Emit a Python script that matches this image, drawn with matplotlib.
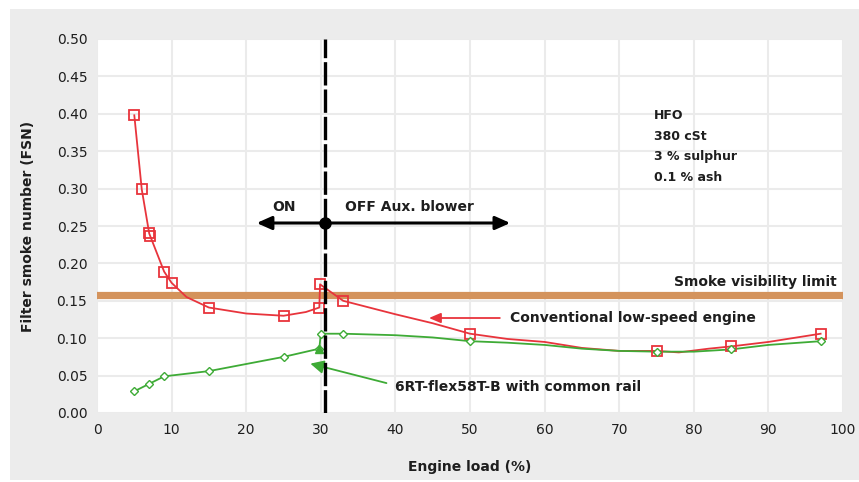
import matplotlib
matplotlib.use("Agg")
import matplotlib.pyplot as plt
from matplotlib.patches import Rectangle

plt.rcParams['font.family'] = ['DejaVu Sans']

# Conventional low-speed engine: measured points (markers)
conv_load = [5, 6, 7, 7.1, 9, 10, 15, 25, 29.8, 29.9, 33, 50, 75, 85, 97]
conv_fsn = [0.398, 0.299, 0.241, 0.237, 0.189, 0.174, 0.141, 0.130, 0.141, 0.172, 0.150, 0.106, 0.083, 0.089, 0.106]
# Conventional engine trend line
conv_line_load = [5, 6, 7, 9, 10, 12, 15, 20, 25, 28, 29.8, 29.9, 33, 40, 45, 50, 55, 60, 65, 70, 75, 78, 82, 85, 90, 97]
conv_line_fsn = [0.398, 0.299, 0.240, 0.189, 0.174, 0.155, 0.141, 0.133, 0.130, 0.135, 0.141, 0.172, 0.150, 0.132, 0.120, 0.106, 0.099, 0.095, 0.087, 0.083, 0.083, 0.081, 0.086, 0.089, 0.095, 0.106]

# 6RT-flex58T-B with common rail
cr_load = [5, 7, 9, 15, 25, 29.8, 30, 33, 50, 75, 85, 97]
cr_fsn = [0.029, 0.039, 0.049, 0.056, 0.075, 0.086, 0.106, 0.106, 0.096, 0.082, 0.086, 0.096]
cr_line_load = [5, 7, 9, 15, 25, 29.8, 30, 33, 40, 45, 50, 55, 60, 65, 70, 75, 80, 85, 90, 97]
cr_line_fsn = [0.029, 0.039, 0.049, 0.056, 0.075, 0.086, 0.106, 0.106, 0.104, 0.101, 0.096, 0.094, 0.091, 0.086, 0.083, 0.082, 0.082, 0.085, 0.091, 0.096]

smoke_limit = 0.158
blower_switch = 30.5
blower_arrow_y = 0.254
blower_arrow_left = 21.4
blower_arrow_right = 55.4

x_ticks = list(range(0, 101, 10))
y_ticks = [0.00, 0.05, 0.10, 0.15, 0.20, 0.25, 0.30, 0.35, 0.40, 0.45, 0.50]

RED = '#e8343c'
GREEN = '#3eab36'
ORANGE = '#d4935c'
GRID = '#ebebeb'
PANEL = '#ececec'
TEXT = '#1e1e1e'

W, H = 859, 482
fig = plt.figure(figsize=(W / 100, H / 100), dpi=100)
fig.patch.set_facecolor('white')
fig.patches.append(Rectangle((10 / W, 2 / H), 1 - 10 / W, 1 - 11 / H,
                             transform=fig.transFigure, facecolor=PANEL,
                             edgecolor='none', zorder=-10))

ax = fig.add_axes([97 / W, 1 - 413 / H, (843 - 97) / W, (413 - 39) / H])
ax.set_facecolor('white')
ax.set_xlim(0, 100)
ax.set_ylim(0, 0.5)
ax.set_xticks(x_ticks)
ax.set_yticks(y_ticks)
ax.set_yticklabels([f'{v:.2f}' for v in y_ticks])
ax.tick_params(length=0, labelsize=10, colors=TEXT, pad=7)
ax.grid(True, color=GRID, lw=1.5, zorder=0)
ax.set_axisbelow(True)
for s in ax.spines.values():
    s.set_visible(False)

ax.set_xlabel('Engine load (%)', fontsize=10, fontweight='bold', color=TEXT, labelpad=17)
ax.set_ylabel('Filter smoke number (FSN)', fontsize=10, fontweight='bold', color=TEXT, labelpad=15.5)

# smoke visibility limit band
ax.axhline(smoke_limit, color=ORANGE, lw=5.2, zorder=2)
ax.text(99.1, 0.175, 'Smoke visibility limit', ha='right', va='center',
        fontsize=10, fontweight='bold', color=TEXT)

# curves
ax.plot(conv_line_load, conv_line_fsn, color=RED, lw=1.3, zorder=3)
ax.plot(conv_load, conv_fsn, ls='none', marker='s', ms=6.5, mfc='none', mec=RED, mew=1.3, zorder=4)
ax.plot(cr_line_load, cr_line_fsn, color=GREEN, lw=1.3, zorder=3)
ax.plot(cr_load, cr_fsn, ls='none', marker='D', ms=4, mfc='white', mec=GREEN, mew=1.0, zorder=4)
ax.plot(cr_load[5:6], cr_fsn[5:6], ls='none', marker='^', ms=6, color=GREEN, zorder=4)

# aux. blower switching line
ax.axvline(blower_switch, color='black', lw=2.4, ls=(0, (7, 1.2)), zorder=6)
for tip in (blower_arrow_left, blower_arrow_right):
    ax.annotate('', xy=(tip, blower_arrow_y), xytext=(blower_switch, blower_arrow_y),
                arrowprops=dict(arrowstyle='-|>,head_length=0.9,head_width=0.4', color='black',
                                lw=2.2, shrinkA=0, shrinkB=0), zorder=6)
ax.plot([blower_switch], [blower_arrow_y], marker='o', ms=8, color='black', zorder=7)
ax.text(23.5, 0.275, 'ON', ha='left', va='center', fontsize=10, fontweight='bold', color=TEXT)
ax.text(33.3, 0.275, 'OFF Aux. blower', ha='left', va='center', fontsize=10,
        fontweight='bold', color=TEXT)

# curve labels
ax.annotate('', xy=(44.5, 0.127), xytext=(54.0, 0.127),
            arrowprops=dict(arrowstyle='-|>,head_length=0.7,head_width=0.3', color=RED, lw=1.3,
                            shrinkA=0, shrinkB=0), zorder=5)
ax.text(55.3, 0.127, 'Conventional low-speed engine', ha='left', va='center', fontsize=10,
        fontweight='bold', color=TEXT)
ax.annotate('', xy=(28.6, 0.066), xytext=(38.8, 0.040),
            arrowprops=dict(arrowstyle='-|>,head_length=0.8,head_width=0.4', color=GREEN, lw=1.3,
                            shrinkA=0, shrinkB=0), zorder=5)
ax.text(39.9, 0.035, '6RT-flex58T-B with common rail', ha='left', va='center', fontsize=10,
        fontweight='bold', color=TEXT)

# fuel specification
spec_lines = ['HFO', '380 cSt', '3 % sulphur', '0.1 % ash']
for i, line in enumerate(spec_lines):
    ax.text(74.7, 0.398 - i * 0.0277, line, ha='left', va='center', fontsize=9,
            fontweight='bold', color=TEXT)

fig.savefig('out.png', dpi=100)
